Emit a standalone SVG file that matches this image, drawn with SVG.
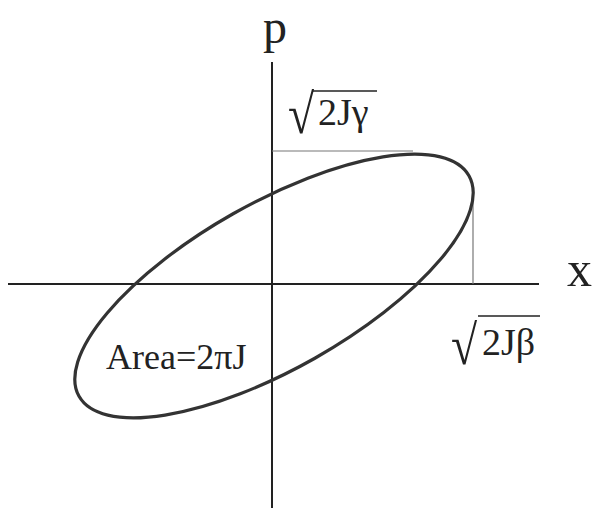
<svg xmlns="http://www.w3.org/2000/svg" width="593" height="511" viewBox="0 0 593 511">
<style>
.ax{stroke:#222;stroke-width:2;fill:none}
.guide{stroke:#777;stroke-width:1.2;fill:none}
.ell{stroke:#333;stroke-width:3.2;fill:none}
.t{font-family:"Liberation Serif","Times New Roman",serif;fill:#222}
.rad{font-family:"Liberation Serif","Times New Roman",serif;fill:#222;font-size:56px}
.bar{stroke:#222;stroke-width:1.5}
</style>
<rect width="593" height="511" fill="#fff"/>
<g id="connectors">
<line class="ax" x1="8" y1="284" x2="539" y2="284"/>
<line class="ax" x1="272" y1="62" x2="272" y2="508"/>
<line class="guide" x1="272" y1="151" x2="413" y2="151"/>
<line class="guide" x1="473" y1="192" x2="473" y2="284"/>
</g>
<g id="ellipse">
<ellipse class="ell" cx="274" cy="286" rx="224" ry="83" transform="rotate(-29.5 274 286)"/>
</g>
<g id="label-p"><text class="t" x="263" y="43" font-size="48">p</text></g>
<g id="label-x"><text class="t" x="567" y="286" font-size="50">x</text></g>
<g id="label-gamma">
<text class="rad" transform="translate(288 133) scale(0.85 1)">√</text>
<line class="bar" x1="312" y1="91" x2="377" y2="91"/>
<text class="t" x="318" y="125" font-size="38">2Jγ</text>
</g>
<g id="label-beta">
<text class="rad" transform="translate(451 364) scale(0.85 1)">√</text>
<line class="bar" x1="478" y1="316" x2="540" y2="316"/>
<text class="t" x="482" y="355" font-size="38">2Jβ</text>
</g>
<g id="label-area"><text class="t" x="106" y="369" font-size="36">Area=2πJ</text></g>
</svg>
